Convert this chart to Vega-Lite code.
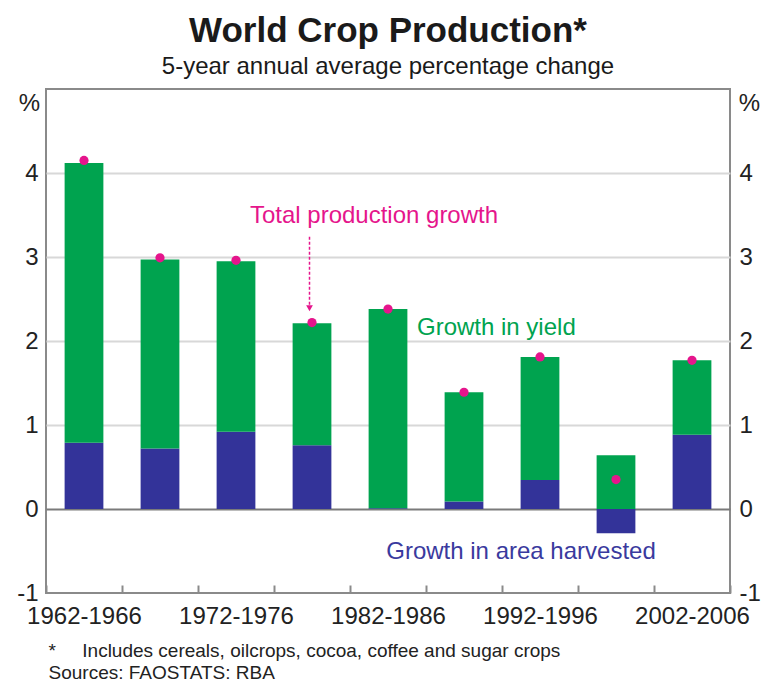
{
  "$schema": "https://vega.github.io/schema/vega-lite/v6.json",
  "width": 684,
  "height": 504,
  "autosize": {"type": "none"},
  "padding": {"left": 46, "top": 89, "right": 31, "bottom": 89},
  "background": "white",
  "config": {
    "font": "Liberation Sans",
    "view": {"stroke": "#8a8a8a", "strokeWidth": 2},
    "axis": {"labelFont": "Liberation Sans", "titleFont": "Liberation Sans", "labelColor": "#222222", "titleColor": "#222222"}
  },
  "title": {
    "text": "World Crop Production*",
    "subtitle": "5-year annual average percentage change",
    "fontSize": 35,
    "fontWeight": "bold",
    "font": "Liberation Sans",
    "subtitleFont": "Liberation Sans",
    "subtitleFontSize": 24,
    "color": "#1a1a1a",
    "subtitleColor": "#1a1a1a",
    "anchor": "middle",
    "offset": 10,
    "subtitlePadding": 6
  },
  "datasets": {
    "bars": [
      {"period": "1962-1966", "component": "Growth in area harvested", "value": 0.79},
      {"period": "1962-1966", "component": "Growth in yield", "value": 3.33},
      {"period": "1967-1971", "component": "Growth in area harvested", "value": 0.72},
      {"period": "1967-1971", "component": "Growth in yield", "value": 2.25},
      {"period": "1972-1976", "component": "Growth in area harvested", "value": 0.92},
      {"period": "1972-1976", "component": "Growth in yield", "value": 2.03},
      {"period": "1977-1981", "component": "Growth in area harvested", "value": 0.76},
      {"period": "1977-1981", "component": "Growth in yield", "value": 1.45},
      {"period": "1982-1986", "component": "Growth in area harvested", "value": 0.01},
      {"period": "1982-1986", "component": "Growth in yield", "value": 2.37},
      {"period": "1987-1991", "component": "Growth in area harvested", "value": 0.09},
      {"period": "1987-1991", "component": "Growth in yield", "value": 1.3},
      {"period": "1992-1996", "component": "Growth in area harvested", "value": 0.345},
      {"period": "1992-1996", "component": "Growth in yield", "value": 1.465},
      {"period": "1997-2001", "component": "Growth in area harvested", "value": -0.29},
      {"period": "1997-2001", "component": "Growth in yield", "value": 0.64},
      {"period": "2002-2006", "component": "Growth in area harvested", "value": 0.885},
      {"period": "2002-2006", "component": "Growth in yield", "value": 0.885}
    ],
    "totals": [
      {"period": "1962-1966", "total": 4.15},
      {"period": "1967-1971", "total": 2.99},
      {"period": "1972-1976", "total": 2.96},
      {"period": "1977-1981", "total": 2.22},
      {"period": "1982-1986", "total": 2.38},
      {"period": "1987-1991", "total": 1.39},
      {"period": "1992-1996", "total": 1.81},
      {"period": "1997-2001", "total": 0.35},
      {"period": "2002-2006", "total": 1.77}
    ]
  },
  "encoding": {
    "x": {
      "field": "period",
      "type": "nominal",
      "scale": {
        "domain": ["1962-1966", "1967-1971", "1972-1976", "1977-1981", "1982-1986", "1987-1991", "1992-1996", "1997-2001", "2002-2006"],
        "paddingInner": 0,
        "paddingOuter": 0
      },
      "axis": {
        "title": ["*\u00a0\u00a0\u00a0\u00a0\u00a0Includes cereals, oilcrops, cocoa, coffee and sugar crops", "Sources: FAOSTATS: RBA"],
        "titleAnchor": "start",
        "titleAlign": "left",
        "titleX": 2,
        "titleY": 48,
        "titleBaseline": "top",
        "titleFontSize": 19,
        "titleFontWeight": "normal",
        "titleLineHeight": 22,
        "labelAngle": 0,
        "labelFontSize": 24,
        "labelPadding": 19,
        "labelOverlap": false,
        "labelBound": false,
        "labelExpr": "indexof(['1962-1966','1972-1976','1982-1986','1992-1996','2002-2006'], datum.value) >= 0 ? datum.value : ''",
        "domain": false,
        "ticks": true,
        "tickBand": "extent",
        "tickSize": -8,
        "tickColor": "#8a8a8a",
        "tickWidth": 2,
        "grid": false
      }
    }
  },
  "layer": [
    {
      "data": {"name": "bars"},
      "mark": {"type": "bar", "width": {"band": 0.51}},
      "encoding": {
        "y": {
          "field": "value",
          "type": "quantitative",
          "stack": "zero",
          "scale": {"domain": [-1, 5], "nice": false, "zero": false},
          "axis": {
            "orient": "left",
            "values": [-1, 0, 1, 2, 3, 4],
            "labelExpr": "replace(datum.label, '\u2212', '-')",
            "title": "%",
            "titleAngle": 0,
            "titleAlign": "center",
            "titleBaseline": "middle",
            "titleX": -17,
            "titleY": 14,
            "titleFontSize": 24,
            "titleFontWeight": "normal",
            "labelFontSize": 24,
            "labelPadding": 8,
            "ticks": false,
            "domain": false,
            "grid": true,
            "gridWidth": 2,
            "gridColor": {"condition": {"test": "datum.value === 0", "value": "#7a7a7a"}, "value": "#d8d8d8"},
            "gridOpacity": {"condition": {"test": "datum.value === -1", "value": 0}, "value": 1}
          }
        },
        "color": {
          "field": "component",
          "type": "nominal",
          "scale": {"domain": ["Growth in area harvested", "Growth in yield"], "range": ["#333399", "#00A34F"]},
          "legend": null
        },
        "order": {"field": "component", "sort": "ascending"}
      }
    },
    {
      "data": {"values": [{"period": "1977-1981", "y": 3.24, "y2": 2.4}]},
      "mark": {"type": "rule", "color": "#E5158C", "strokeDash": [3, 2], "strokeWidth": 1.5, "xOffset": -2.5},
      "encoding": {
        "y": {"field": "y", "type": "quantitative", "axis": null},
        "y2": {"field": "y2"}
      }
    },
    {
      "data": {"values": [{"period": "1977-1981", "y": 2.39}]},
      "mark": {"type": "point", "shape": "triangle-down", "filled": true, "size": 45, "color": "#E5158C", "opacity": 1, "xOffset": -2.5},
      "encoding": {
        "y": {"field": "y", "type": "quantitative", "axis": null}
      }
    },
    {
      "data": {"name": "totals"},
      "mark": {"type": "point", "filled": true, "size": 85, "color": "#E5158C", "opacity": 1},
      "encoding": {
        "y": {
          "field": "total",
          "type": "quantitative",
          "axis": {
            "orient": "right",
            "values": [-1, 0, 1, 2, 3, 4],
            "labelExpr": "replace(datum.label, '\u2212', '-')",
            "title": "%",
            "titleAngle": 0,
            "titleAlign": "center",
            "titleBaseline": "middle",
            "titleX": 19,
            "titleY": 14,
            "titleFontSize": 24,
            "titleFontWeight": "normal",
            "labelFontSize": 24,
            "labelPadding": 9,
            "ticks": false,
            "domain": false,
            "grid": false
          }
        }
      }
    },
    {
      "data": {"values": [{"period": "1982-1986", "y": 3.49, "label": "Total production growth"}]},
      "mark": {"type": "text", "align": "center", "baseline": "middle", "dx": -14, "fontSize": 24, "color": "#E5158C"},
      "encoding": {
        "y": {"field": "y", "type": "quantitative", "axis": null},
        "text": {"field": "label"}
      }
    },
    {
      "data": {"values": [{"period": "1982-1986", "y": 2.15, "label": "Growth in yield"}]},
      "mark": {"type": "text", "align": "left", "baseline": "middle", "dx": 29, "fontSize": 24, "color": "#00A34F"},
      "encoding": {
        "y": {"field": "y", "type": "quantitative", "axis": null},
        "text": {"field": "label"}
      }
    },
    {
      "data": {"values": [{"period": "1992-1996", "y": -0.51, "label": "Growth in area harvested"}]},
      "mark": {"type": "text", "align": "center", "baseline": "middle", "dx": -19, "fontSize": 24, "color": "#3A3A9E"},
      "encoding": {
        "y": {"field": "y", "type": "quantitative", "axis": null},
        "text": {"field": "label"}
      }
    }
  ],
  "resolve": {"axis": {"y": "independent"}}
}
